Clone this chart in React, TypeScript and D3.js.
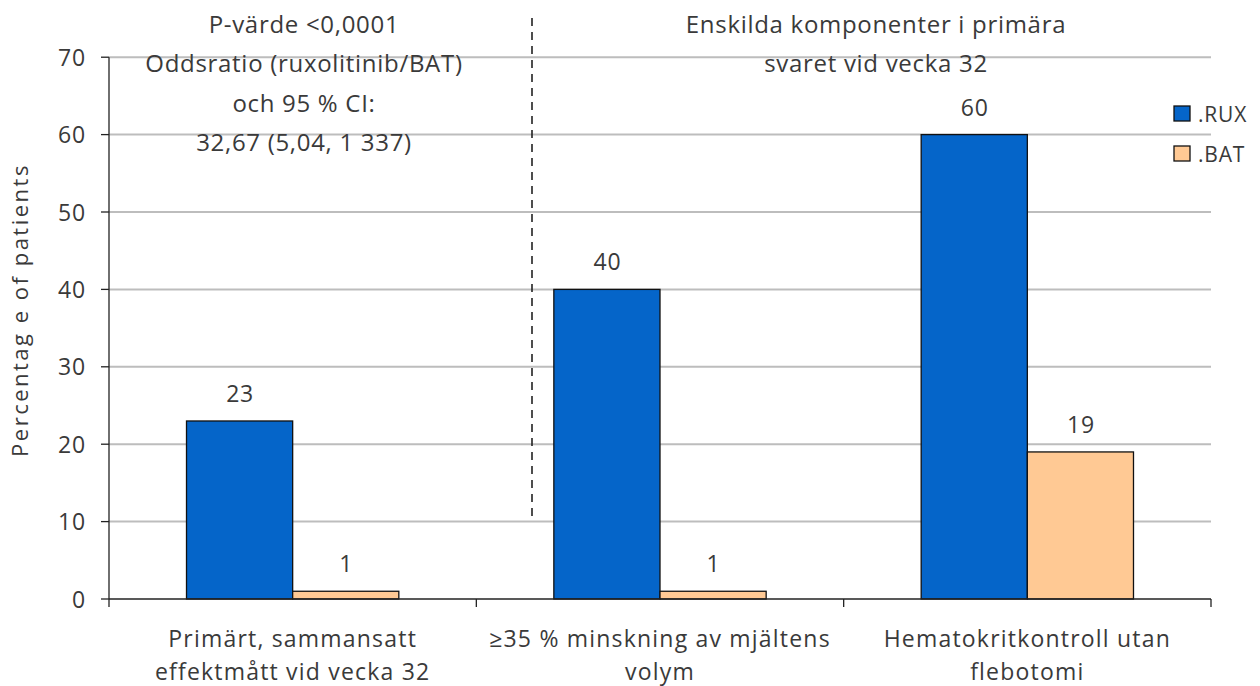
import React from "react";
import * as d3 from "d3";

const categories: string[][] = [
  ["Primärt, sammansatt", "effektmått vid vecka 32"],
  ["≥35 % minskning av mjältens", "volym"],
  ["Hematokritkontroll utan", "flebotomi"],
];
const seriesNames = [".RUX", ".BAT"];
const ruxValues = [23, 40, 60];
const batValues = [1, 1, 19];
const yTicks = [0, 10, 20, 30, 40, 50, 60, 70];
const leftNote = ["P-värde <0,0001", "Oddsratio (ruxolitinib/BAT)", "och 95 % CI:", "32,67 (5,04, 1 337)"];
const rightNote = ["Enskilda komponenter i primära", "svaret vid vecka 32"];
const yTitle = "Percentag e of patients";

const colors = ["#0565C9", "#FFC994"];
const FONT = "'Open Sans', 'Noto Sans', sans-serif";
const TXT = "#3a3a3a";

export default function App() {
  const W = 1260, H = 686;
  const x0 = 109, x1 = 1211, yTop = 57.2, yBot = 599;
  const y = d3.scaleLinear().domain([0, 70]).range([yBot, yTop]);
  const xOuter = d3.scaleBand<number>().domain(d3.range(categories.length)).range([x0, x1]).padding(0);
  const bw = xOuter.bandwidth();
  const xInner = d3.scaleBand<number>().domain([0, 1]).range([bw * 0.211, bw * 0.789]).padding(0);
  const data = [ruxValues, batValues];

  return (
    <div style={{ position: "absolute", left: 0, top: 0 }}>
      <svg width={W} height={H} style={{ display: "block", background: "#fff" }} fontFamily={FONT}>
        {/* gridlines */}
        {yTicks.filter((t) => t > 0).map((t) => (
          <line key={"g" + t} x1={x0} x2={x1} y1={y(t)} y2={y(t)} stroke="#BDBDBD" strokeWidth={2} />
        ))}
        {/* bars */}
        {categories.map((_, ci) =>
          data.map((vals, si) => {
            const bx = (xOuter(ci) as number) + (xInner(si) as number);
            const v = vals[ci];
            return (
              <g key={`b${ci}-${si}`}>
                <rect x={bx} y={y(v)} width={xInner.bandwidth()} height={yBot - y(v)} fill={colors[si]} stroke="#111" strokeWidth={1.3} />
                <text x={bx + xInner.bandwidth() / 2 + 0.5} y={y(v) - 19} textAnchor="middle" fontSize={23} fill={TXT} letterSpacing={0.8}>
                  {v}
                </text>
              </g>
            );
          })
        )}
        {/* y axis */}
        <line x1={x0} x2={x0} y1={yTop} y2={yBot} stroke="#222" strokeWidth={1.3} />
        {yTicks.map((t) => (
          <g key={"t" + t}>
            <line x1={x0 - 8} x2={x0} y1={y(t)} y2={y(t)} stroke="#222" strokeWidth={1.3} />
            <text x={86} y={y(t) + 8.5} textAnchor="end" fontSize={23} fill={TXT} letterSpacing={0.8}>
              {t}
            </text>
          </g>
        ))}
        {/* x axis */}
        <line x1={x0} x2={x1} y1={yBot} y2={yBot} stroke="#222" strokeWidth={1.3} />
        {d3.range(categories.length + 1).map((i) => {
          const xx = i < categories.length ? (xOuter(i) as number) : x1;
          return <line key={"xt" + i} x1={xx} x2={xx} y1={yBot} y2={yBot + 8} stroke="#222" strokeWidth={1.3} />;
        })}
        {categories.map((lines, ci) => (
          <text key={"c" + ci} textAnchor="middle" fontSize={23} fill={TXT} letterSpacing={1.2}>
            {lines.map((l, li) => (
              <tspan key={li} x={(xOuter(ci) as number) + bw / 2} y={647 + li * 33}>
                {l}
              </tspan>
            ))}
          </text>
        ))}
        {/* y title */}
        <text transform={`translate(28,310) rotate(-90)`} textAnchor="middle" fontSize={22} fill={TXT} letterSpacing={2.5}>
          {yTitle}
        </text>
        {/* dashed divider */}
        <line x1={532} x2={532} y1={18} y2={516} stroke="#222" strokeWidth={1.6} strokeDasharray="8,6" />
        {/* annotations */}
        <text textAnchor="middle" fontSize={24} fill={TXT} letterSpacing={0.7}>
          {leftNote.map((l, i) => (
            <tspan key={i} x={304} y={33 + i * 39.3}>
              {l}
            </tspan>
          ))}
        </text>
        <text textAnchor="middle" fontSize={24} fill={TXT} letterSpacing={0.7}>
          {rightNote.map((l, i) => (
            <tspan key={i} x={876} y={33 + i * 38.5}>
              {l}
            </tspan>
          ))}
        </text>
        {/* legend */}
        {seriesNames.map((s, i) => (
          <g key={"l" + i} transform={`translate(1174,${106 + i * 40})`}>
            <rect x={0} y={0} width={16} height={15} fill={colors[i]} stroke="#111" strokeWidth={1.3} />
            <text x={24} y={15.5} fontSize={21} fill={TXT} letterSpacing={0.8}>
              {s}
            </text>
          </g>
        ))}
      </svg>
    </div>
  );
}
